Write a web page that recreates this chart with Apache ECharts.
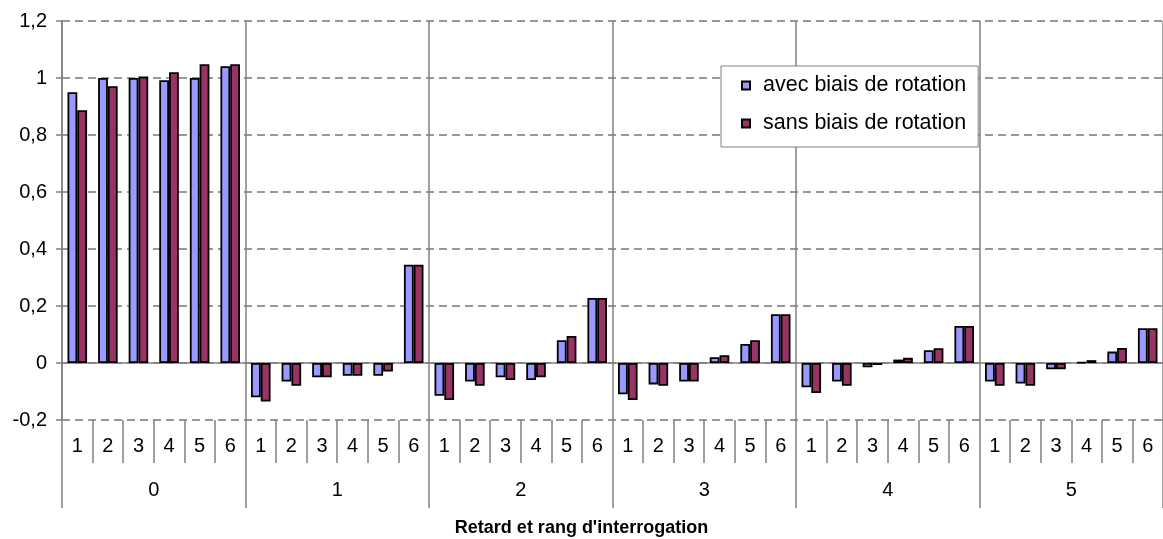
<!DOCTYPE html>
<html>
<head>
<meta charset="utf-8">
<script src="https://cdn.jsdelivr.net/npm/echarts@6/dist/echarts.min.js"></script>
<style>
html,body{margin:0;padding:0;background:#fff;}
#c{width:1163px;height:539px;}
</style>
</head>
<body>
<div id="c"></div>
<script>
var groups = ['0', '1', '2', '3', '4', '5'];
var ranks = ['1', '2', '3', '4', '5', '6'];
var seriesNames = ['avec biais de rotation', 'sans biais de rotation'];
var avec = [
  0.950, 1.000, 1.000, 0.992, 1.000, 1.041,
  -0.120, -0.065, -0.050, -0.045, -0.045, 0.345,
  -0.115, -0.065, -0.050, -0.060, 0.080, 0.228,
  -0.110, -0.075, -0.065, 0.020, 0.067, 0.171,
  -0.085, -0.065, -0.015, 0.012, 0.045, 0.130,
  -0.065, -0.072, -0.022, 0.003, 0.040, 0.122
];
var sans = [
  0.887, 0.971, 1.005, 1.020, 1.048, 1.048,
  -0.135, -0.080, -0.050, -0.045, -0.030, 0.345,
  -0.130, -0.080, -0.060, -0.050, 0.095, 0.228,
  -0.130, -0.080, -0.065, 0.027, 0.080, 0.171,
  -0.105, -0.080, -0.007, 0.018, 0.052, 0.130,
  -0.080, -0.080, -0.022, 0.010, 0.053, 0.122
];
var yTicks = { min: -0.2, max: 1.2, step: 0.2 };
var xTitle = "Retard et rang d'interrogation";

var cats = [];
groups.forEach(function (g) { ranks.forEach(function (r) { cats.push(g + '-' + r); }); });

var FONT = '"Liberation Sans", Arial, sans-serif';
var GRAY = '#808080';

var chart = echarts.init(document.getElementById('c'));
chart.setOption({
  animation: false,
  backgroundColor: '#fff',
  textStyle: { fontFamily: FONT, color: '#000' },
  title: {
    text: xTitle, left: 'center', top: 514,
    textStyle: { fontFamily: FONT, fontSize: 18, fontWeight: 'bold', color: '#000' }
  },
  legend: {
    orient: 'vertical', left: 721, top: 66,
    itemWidth: 8, itemHeight: 8, itemGap: 15, icon: 'rect',
    backgroundColor: '#fff', borderColor: GRAY, borderWidth: 1,
    padding: [8, 12, 12, 20],
    textStyle: { fontFamily: FONT, fontSize: 21.5, lineHeight: 23, color: '#000', padding: [0, 0, 0, 8] },
    data: seriesNames
  },
  grid: { left: 62, right: -7, top: 21, bottom: 119 },
  xAxis: [
    {
      type: 'category', data: cats, gridIndex: 0,
      axisLine: { show: true, onZero: true, lineStyle: { color: GRAY, width: 1.5 } },
      axisTick: { show: false }, axisLabel: { show: false }, splitLine: { show: false }
    },
    {
      type: 'category', data: cats, gridIndex: 0, position: 'bottom', offset: 0,
      axisLine: { show: false, onZero: false },
      axisTick: { show: true, interval: 0, length: 43, lineStyle: { color: GRAY, width: 1.5 } },
      axisLabel: { show: true, interval: 0, margin: 16, fontSize: 20, fontFamily: FONT, color: '#000',
        formatter: function (v, i) { return ranks[i % ranks.length]; } },
      splitLine: { show: false }
    },
    {
      type: 'category', data: groups, gridIndex: 0, position: 'bottom', offset: 0,
      axisLine: { show: false, onZero: false },
      axisTick: { show: true, interval: 0, length: 88, lineStyle: { color: GRAY, width: 1.5 } },
      axisLabel: { show: true, interval: 0, margin: 60, fontSize: 20, fontFamily: FONT, color: '#000' },
      splitLine: { show: true, interval: 0, lineStyle: { color: GRAY, width: 1.5, type: 'solid' } }
    }
  ],
  yAxis: {
    type: 'value', min: yTicks.min, max: yTicks.max, interval: yTicks.step,
    axisLine: { show: true, lineStyle: { color: GRAY, width: 1.5 } },
    axisTick: { show: true, length: 6, lineStyle: { color: GRAY, width: 1.5 } },
    axisLabel: { margin: 15, fontSize: 20, fontFamily: FONT, color: '#000',
      formatter: function (v) { return String(Math.round(v * 10) / 10).replace('.', ','); } },
    splitLine: { show: true, lineStyle: { color: '#777', type: [8, 5], width: 1.5 } }
  },
  series: [
    {
      name: seriesNames[0], type: 'bar', xAxisIndex: 0, data: avec,
      barGap: '0%', barCategoryGap: '36%',
      itemStyle: { color: '#9999FF', borderColor: '#000', borderWidth: 1.8 }
    },
    {
      name: seriesNames[1], type: 'bar', xAxisIndex: 0, data: sans,
      barGap: '0%', barCategoryGap: '36%',
      itemStyle: { color: '#993366', borderColor: '#000', borderWidth: 1.8 }
    }
  ]
});
</script>
</body>
</html>
